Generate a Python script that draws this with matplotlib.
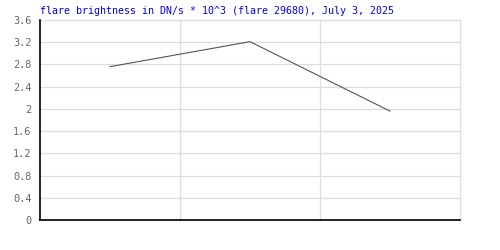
import matplotlib
matplotlib.use("Agg")
import matplotlib.pyplot as plt

title = "flare brightness in DN/s * 10^3 (flare 29680), July 3, 2025"
x_pos = [0.5, 1.5, 2.5]
values = [2.76, 3.21, 1.96]
y_ticks = [0, 0.4, 0.8, 1.2, 1.6, 2, 2.4, 2.8, 3.2, 3.6]
y_labels = ["0", "0.4", "0.8", "1.2", "1.6", "2", "2.4", "2.8", "3.2", "3.6"]

fig = plt.figure(figsize=(5, 2.5), dpi=100)
ax = fig.add_axes([0.08, 0.12, 0.84, 0.80])
ax.plot(x_pos, values, color="#555555", lw=0.8)
ax.set_xlim(0, 3)
ax.set_ylim(0, 3.6)
ax.set_xticks([1, 2, 3])
ax.set_xticklabels([])
ax.set_yticks(y_ticks)
ax.set_yticklabels(y_labels, family="DejaVu Sans Mono", fontsize=7.4, color="#666666")
ax.tick_params(axis="both", length=0, pad=6)
ax.grid(True, color="#dddddd", lw=0.9)
for gl in ax.get_xgridlines() + ax.get_ygridlines():
    gl.set_clip_on(False)
ax.set_axisbelow(True)
for s in ["top", "right"]:
    ax.spines[s].set_visible(False)
for s in ["left", "bottom"]:
    ax.spines[s].set_color("black")
    ax.spines[s].set_linewidth(1.2)
fig.text(0.08, 0.955, title, family="DejaVu Sans Mono", fontsize=7.2, color="#0000ff", va="center", ha="left")
fig.savefig("out.png", dpi=100)
